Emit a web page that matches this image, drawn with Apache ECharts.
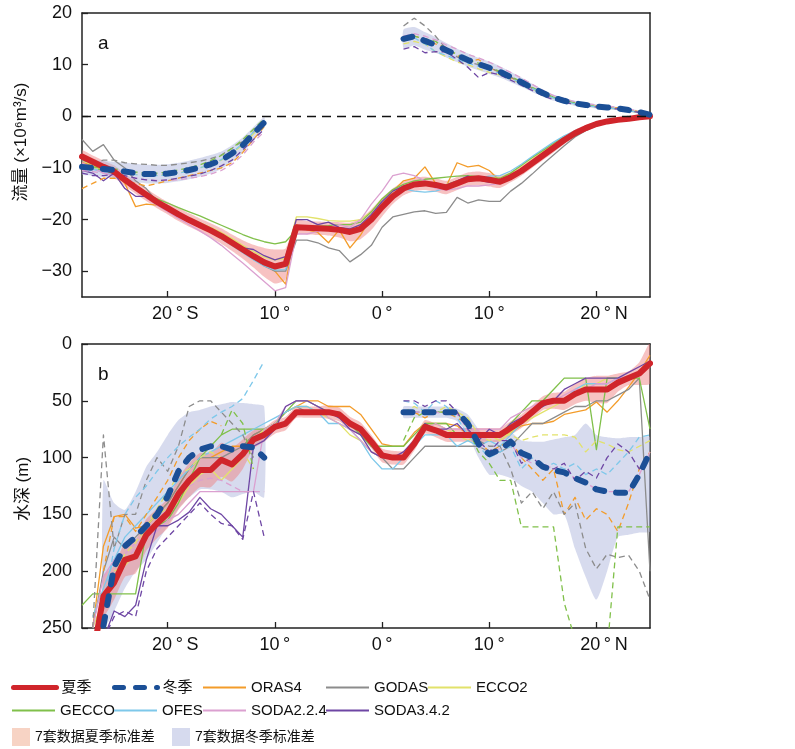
<!DOCTYPE html>
<html><head><meta charset="utf-8">
<script src="https://cdn.jsdelivr.net/npm/echarts@6/dist/echarts.min.js"></script>
<style>html,body{margin:0;padding:0;background:#fff}#c{width:795px;height:749px}</style>
</head><body><div id="c"></div>
<script>
// ---------- latitude grids ----------
const LAT = [-28,-27,-26,-25,-24,-23,-22,-21,-20,-19,-18,-17,-16,-15,-14,-13,-12,-11,-10,-9,-8,-7,-6,-5,-4,-3,-2,-1,0,1,2,3,4,5,6,7,8,9,10,11,12,13,14,15,16,17,18,19,20,21,22,23,24,25];
const LAT_S = [-28,-27,-26,-25,-24,-23,-22,-21,-20,-19,-18,-17,-16,-15,-14,-13,-12,-11];
const LAT_N = [2,3,4,5,6,7,8,9,10,11,12,13,14,15,16,17,18,19,20,21,22,23,24,25];

const X_TICKS = [-20,-10,0,10,20];
const X_TICK_LABELS = ['20\u2009°\u2009S','10\u2009°','0\u2009°','10\u2009°','20\u2009°\u2009N'];
const YA_TICKS = [-30,-20,-10,0,10,20];

const NAMES = ['ORAS4','GODAS','ECCO2','GECCO','OFES','SODA2.2.4','SODA3.4.2'];
const COLORS = ['#f39c2a','#8c8c8c','#e2e26a','#80c04a','#7ec8ea','#dba0d0','#6e46a4'];

// ---------- panel a : transport, summer (LAT) ----------
const A_SUM_MEAN = [-7.8,-8.8,-9.8,-10.7,-12.3,-13.8,-15.2,-16.6,-17.8,-19,-20.1,-21.1,-22.1,-23.2,-24.5,-25.8,-27.1,-28.3,-29.1,-28.6,-21.5,-21.6,-21.7,-21.8,-22,-22.4,-21.8,-20,-17.6,-15.5,-14,-13.2,-13,-13.3,-13.8,-13,-12.2,-12,-12.3,-12.7,-11.8,-10.6,-9.1,-7.6,-6.1,-4.6,-3.3,-2.3,-1.5,-1,-0.7,-0.5,-0.2,0];
const A_SUM_STD = [1.2,1.2,1.2,1.2,1.2,1.2,1.2,1.2,1.2,1.3,1.3,1.3,1.4,1.5,1.6,1.8,2.2,2.8,3.3,3,1.5,1.3,1.3,1.3,1.5,1.8,2,2,1.8,1.5,1.3,1.3,1.3,1.3,1.3,1.3,1.3,1.3,1.3,1.2,1,0.9,0.9,0.9,0.9,0.8,0.7,0.6,0.5,0.4,0.3,0.3,0.2,0.1];
const A_SUM_ORAS4 = [-9,-9.5,-10.5,-11,-13,-17.5,-17,-17.2,-17.8,-19,-20,-21,-22,-23,-24.5,-26,-27.5,-28.5,-30,-32.5,-21,-22,-22.5,-24.5,-22,-25.5,-23,-19.5,-17,-14.5,-12.5,-12,-9.8,-13,-13.5,-9,-9.8,-9.5,-10.5,-12.5,-12,-10.8,-9.3,-7.8,-6.5,-5,-3.6,-2.6,-1.8,-1.2,-0.8,-0.5,-0.2,0];
const A_SUM_GODAS = [-4.5,-6.8,-5.5,-8.5,-10,-12.5,-14,-16.5,-17.8,-19,-20,-21,-22,-23.2,-24.6,-26,-27.6,-29,-30,-30,-24,-24,-24.5,-25.5,-26,-28.2,-26.8,-25,-21.5,-19.5,-19,-18.5,-18.3,-18.8,-18.6,-15.7,-16.8,-16.2,-16.5,-16.5,-14.5,-13,-11.2,-9.3,-7.5,-5.7,-4,-2.8,-1.8,-1.2,-0.8,-0.5,-0.2,0];
const A_SUM_ECCO2 = [-8.5,-9.5,-10.5,-11,-12.5,-14,-15.3,-16.5,-17.6,-18.7,-19.7,-20.6,-21.5,-22.5,-23.7,-25,-26.2,-27.3,-27.8,-27.5,-19.5,-19.5,-19.8,-20.2,-20.3,-20.3,-20,-18.5,-16,-14.5,-13.8,-13.5,-13.3,-13.5,-13.2,-12.5,-12,-12,-12,-12,-11,-9.6,-8.1,-6.7,-5.3,-4,-3,-2.1,-1.4,-1,-0.7,-0.4,-0.2,0];
const A_SUM_GECCO = [-9.5,-10,-10.5,-11,-12.5,-13.8,-15,-16,-16.8,-17.7,-18.5,-19.3,-20.2,-21.1,-22,-22.9,-23.7,-24.3,-24.7,-24.3,-22,-21.5,-21.3,-21.2,-21,-21,-20.5,-18.5,-16,-14.2,-13.2,-12.5,-12.2,-12,-11.8,-11.6,-11.5,-11.7,-12,-12,-11,-9.5,-8,-6.6,-5.2,-3.9,-2.9,-2,-1.4,-1,-0.7,-0.4,-0.2,0];
const A_SUM_OFES = [-10,-10.3,-10.8,-11.3,-12.5,-14,-15.5,-16.8,-18,-19.2,-20.3,-21.4,-22.5,-23.7,-25,-26.4,-27.8,-29,-29.8,-29.7,-21.5,-21.3,-21.5,-21.5,-21.8,-22,-21.5,-19.5,-17,-15,-14,-14.5,-14.7,-14.5,-13.8,-13,-12.5,-12,-11.6,-11.5,-10.6,-9.3,-7.8,-6.4,-5,-3.8,-2.8,-2,-1.3,-0.9,-0.6,-0.4,-0.2,0];
const A_SUM_SODA224 = [-9,-10,-11,-11.5,-12.7,-14.3,-15.8,-17.2,-18.5,-19.8,-21,-22.2,-23.5,-25,-26.7,-28.4,-30.2,-32,-33.8,-33.2,-22.8,-22.8,-22.3,-21.5,-21,-21.5,-20,-17,-14.5,-11.5,-11,-11.5,-12.5,-14,-14.3,-14,-13.5,-13.5,-13.3,-13,-11.7,-10.3,-8.8,-7.3,-5.8,-4.4,-3.2,-2.2,-1.5,-1,-0.7,-0.4,-0.2,0];
const A_SUM_SODA342 = [-10.5,-11,-12.5,-11,-14,-15.5,-15.5,-16.5,-17.6,-18.8,-19.8,-20.8,-21.8,-23,-24.3,-25.5,-25.8,-27,-27.8,-27.2,-20,-20,-21,-20.5,-21.5,-21.8,-21,-19,-16.5,-14.5,-13.5,-13,-13.3,-13.5,-13.3,-12.5,-11.6,-12.3,-12.8,-12.5,-11.5,-10.3,-8.8,-7.3,-5.9,-4.5,-3.3,-2.3,-1.5,-1,-0.7,-0.4,-0.2,0];

// ---------- panel a : transport, winter south (LAT_S) ----------
const A_WIN_S_MEAN = [-9.8,-10,-10.2,-10.4,-10.7,-11,-11.2,-11.2,-11.1,-10.8,-10.4,-9.9,-9.3,-8.5,-7.2,-5.6,-3.4,-1.2];
const A_WIN_S_STD = [1.5,1.5,1.6,1.6,1.7,1.8,1.8,1.8,1.8,1.8,1.8,1.8,1.8,1.7,1.6,1.5,1.3,1];
const A_WIN_S_ORAS4 = [-14,-13,-12,-12,-12.5,-13,-13.5,-13,-12.5,-12,-11.5,-11,-10.5,-10,-9,-7,-4.5,-2];
const A_WIN_S_GODAS = [-8.5,-9,-8.5,-8.5,-9,-9.2,-9.3,-9.5,-9.5,-9.3,-9,-8.7,-8.2,-7.5,-6.2,-4.8,-3,-1];
const A_WIN_S_ECCO2 = [-10,-10,-10.3,-10.5,-10.8,-11.2,-11.4,-11.4,-11.3,-11,-10.5,-10,-9.3,-8.5,-7.2,-5.5,-3.4,-1.3];
const A_WIN_S_GECCO = [-9.5,-9.8,-10,-10.2,-10.5,-10.8,-11,-11,-10.8,-10.4,-10,-9.4,-8.6,-7.6,-6.2,-4.5,-2.5,-0.5];
const A_WIN_S_OFES = [-10,-10.2,-10.4,-10.6,-11,-11.3,-11.5,-11.5,-11.4,-11,-10.6,-10,-9.3,-8.4,-7,-5.3,-3.1,-0.8];
const A_WIN_S_SODA224 = [-10.5,-10.7,-11,-11.3,-11.7,-12,-12.3,-12.4,-12.4,-12.3,-12,-11.7,-11.2,-10.5,-9.3,-7.5,-5,-3];
const A_WIN_S_SODA342 = [-11,-11.5,-11.5,-11.2,-11.5,-12,-12.3,-12.5,-12.3,-12,-11.6,-11.2,-10.5,-9.6,-8.5,-6.5,-4.5,-2.5];

// ---------- panel a : transport, winter north (LAT_N) ----------
const A_WIN_N_MEAN = [15,15.5,14.6,13.8,12.8,11.8,10.9,10.1,9.4,8.6,7.6,6.6,5.5,4.5,3.6,3,2.5,2.2,1.9,1.7,1.5,1.2,0.8,0.3];
const A_WIN_N_STD = [1.8,1.8,1.7,1.5,1.4,1.3,1.3,1.2,1.2,1.1,1,0.9,0.8,0.7,0.6,0.5,0.5,0.4,0.4,0.4,0.3,0.3,0.3,0.2];
const A_WIN_N_ORAS4 = [14.5,15.5,15,14,13.3,11.8,10.5,11,9.5,8.4,7.5,6.5,5.5,4.5,3.6,3,2.5,2.2,2,1.8,1.6,1.3,0.9,0.3];
const A_WIN_N_GODAS = [17.5,19,17.5,15.5,13,11.5,10.5,10,9.4,8.6,7.6,6.6,5.4,4.4,3.6,3,2.5,2.2,1.9,1.7,1.5,1.2,0.8,0.3];
const A_WIN_N_ECCO2 = [14,14.5,14,12.5,11.5,10.5,10,9.2,8.5,8,7.2,6.3,5.3,4.3,3.5,2.9,2.4,2.1,1.8,1.6,1.4,1.1,0.7,0.3];
const A_WIN_N_GECCO = [15,15.5,15,14.5,13,12,11,10.3,9.5,8.7,7.7,6.7,5.6,4.6,3.7,3.1,2.6,2.2,1.9,1.7,1.5,1.2,0.8,0.3];
const A_WIN_N_OFES = [14.8,15.2,14,12.5,11.8,11,10.3,9.7,9,8.3,7.4,6.4,5.4,4.4,3.5,2.9,2.4,2.1,1.8,1.6,1.4,1.1,0.7,0.3];
const A_WIN_N_SODA224 = [15.5,16,15.5,14.8,13.8,13,12,11.3,10.5,9.5,8.5,7.4,6.2,5,4,3.4,2.8,2.5,2.2,2,1.7,1.4,1,0.4];
const A_WIN_N_SODA342 = [13,13.5,12.3,12.5,12.5,11,9.5,7.5,8.5,8,7,6,5,4,3.2,2.7,2.3,2,1.8,1.6,1.4,1.1,0.7,0.3];

// ---------- panel b : depth, summer (LAT) ----------
const B_SUM_MEAN = [null,275,222,210,190,187,168,158,149,132,120,111,111,102,106,97,84,80,73,70,60,60,60,60,62,70,75,86,98,100,100,88,73,76,80,80,80,80,80,80,74,68,60,52,50,50,44,40,40,40,34,30,26,17];
const B_SUM_STD = [null,null,18,15,15,15,14,13,13,14,15,15,15,15,15,13,8,6,6,6,5,5,5,6,6,6,6,6,6,6,6,6,6,6,6,6,6,6,6,6,6,6,6,6,7,8,9,10,12,12,8,6,10,18];
const B_SUM_ORAS4 = [null,250,178,152,150,162,160,150,140,125,110,100,100,95,90,90,80,75,70,60,55,50,50,55,55,55,62,75,88,90,90,78,70,70,70,72,80,80,80,80,78,72,70,70,68,62,60,58,51,60,50,38,25,10];
const B_SUM_GODAS = [null,250,200,170,180,170,160,150,140,125,110,100,100,100,95,90,80,75,70,60,55,60,60,60,65,70,80,90,100,110,110,100,90,90,90,90,90,90,95,95,90,80,70,70,65,60,55,55,50,50,45,40,30,200];
const B_SUM_ECCO2 = [null,250,225,200,195,185,160,150,145,140,125,115,110,120,110,100,85,75,70,60,55,55,60,65,70,80,85,95,100,100,100,85,75,70,75,80,85,80,80,85,78,70,65,60,55,50,45,35,35,30,30,28,25,20];
const B_SUM_GECCO = [230,220,220,220,220,220,165,160,155,140,120,100,90,80,75,75,75,75,70,60,50,50,55,60,60,70,80,90,90,90,90,80,70,70,70,80,80,80,80,80,70,60,50,50,40,30,30,30,93,30,30,30,30,75];
const B_SUM_OFES = [null,240,215,190,170,160,150,140,130,120,110,100,95,90,85,80,75,70,65,60,55,55,60,70,70,75,85,100,110,110,100,90,80,80,80,90,85,90,85,90,80,70,60,55,50,50,40,35,35,35,30,30,25,20];
const B_SUM_SODA224 = [null,250,205,190,185,175,170,165,155,150,140,130,130,130,130,130,130,75,70,55,50,50,55,65,70,75,85,95,100,100,95,85,75,70,75,75,75,75,75,75,65,60,55,50,50,45,40,40,35,35,30,28,25,20];
const B_SUM_SODA342 = [null,null,260,235,240,230,190,160,160,155,148,135,145,150,160,170,90,85,75,55,50,50,55,60,65,75,80,95,100,100,95,85,70,75,75,70,80,85,75,80,70,65,60,55,50,40,35,30,30,30,30,25,20,15];

// ---------- panel b : depth, winter south (LAT_S) ----------
const B_WIN_S_MEAN = [null,null,248,196,178,170,160,150,134,112,100,93,90,90,93,90,91,100];
const B_WIN_S_UPPER = [null,null,120,140,146,130,108,95,80,67,60,58,55,53,51,52,53,55];
const B_WIN_S_LOWER = [null,null,250,235,215,200,190,175,160,145,135,128,128,130,135,132,130,135];
const B_WIN_S_ORAS4 = [null,null,200,152,152,165,150,135,120,100,85,75,68,72,null,null,null,null];
const B_WIN_S_GODAS = [null,250,80,180,150,150,120,100,112,90,55,50,50,60,70,80,100,null];
const B_WIN_S_ECCO2 = [null,null,230,200,185,175,160,145,130,115,110,100,95,100,105,95,110,null];
const B_WIN_S_GECCO = [null,null,null,null,null,null,null,null,null,null,null,null,null,80,58,70,110,null];
const B_WIN_S_OFES = [null,260,230,180,150,135,125,112,100,90,82,75,66,60,55,48,32,15];
const B_WIN_S_SODA224 = [null,null,230,200,190,180,165,155,145,130,125,120,118,120,125,130,130,130];
const B_WIN_S_SODA342 = [null,null,260,240,235,240,200,180,170,160,150,140,150,158,160,172,130,170];

// ---------- panel b : depth, winter north (LAT_N) ----------
const B_WIN_N_MEAN = [60,60,60,60,60,60,70,88,97,93,86,96,100,108,111,113,118,122,128,130,131,131,115,95];
const B_WIN_N_UPPER = [55,55,55,55,55,57,62,75,85,83,78,85,86,86,84,82,80,70,80,82,83,82,82,82];
const B_WIN_N_LOWER = [65,65,65,65,65,68,80,100,115,115,118,125,130,140,150,150,180,205,225,200,170,168,166,165];
const B_WIN_N_ORAS4 = [60,60,65,60,60,65,70,85,95,90,85,100,110,120,110,150,135,155,145,150,165,140,110,95];
const B_WIN_N_GODAS = [60,60,60,60,60,60,70,85,90,90,110,140,130,145,130,150,140,180,198,185,188,186,200,225];
const B_WIN_N_ECCO2 = [60,55,60,60,55,60,65,80,85,80,80,85,82,80,80,80,82,95,85,88,93,95,90,85];
const B_WIN_N_GECCO = [85,65,60,60,60,60,75,95,105,120,120,161,161,161,161,228,260,290,290,270,161,161,161,161];
const B_WIN_N_OFES = [50,52,60,50,55,65,80,90,100,95,90,110,100,110,105,110,105,115,110,115,105,95,82,80];
const B_WIN_N_SODA224 = [60,60,60,60,62,62,75,90,95,92,88,100,105,105,110,112,118,122,128,130,130,130,115,95];
const B_WIN_N_SODA342 = [50,50,55,50,50,60,75,85,95,85,85,105,100,108,110,105,120,112,118,100,88,95,110,100];

const A_SUM = [A_SUM_ORAS4,A_SUM_GODAS,A_SUM_ECCO2,A_SUM_GECCO,A_SUM_OFES,A_SUM_SODA224,A_SUM_SODA342];
const A_WIN_S = [A_WIN_S_ORAS4,A_WIN_S_GODAS,A_WIN_S_ECCO2,A_WIN_S_GECCO,A_WIN_S_OFES,A_WIN_S_SODA224,A_WIN_S_SODA342];
const A_WIN_N = [A_WIN_N_ORAS4,A_WIN_N_GODAS,A_WIN_N_ECCO2,A_WIN_N_GECCO,A_WIN_N_OFES,A_WIN_N_SODA224,A_WIN_N_SODA342];
const B_SUM = [B_SUM_ORAS4,B_SUM_GODAS,B_SUM_ECCO2,B_SUM_GECCO,B_SUM_OFES,B_SUM_SODA224,B_SUM_SODA342];
const B_WIN_S = [B_WIN_S_ORAS4,B_WIN_S_GODAS,B_WIN_S_ECCO2,B_WIN_S_GECCO,B_WIN_S_OFES,B_WIN_S_SODA224,B_WIN_S_SODA342];
const B_WIN_N = [B_WIN_N_ORAS4,B_WIN_N_GODAS,B_WIN_N_ECCO2,B_WIN_N_GECCO,B_WIN_N_OFES,B_WIN_N_SODA224,B_WIN_N_SODA342];

// ---------- helpers ----------
const RED = '#d0252b', BLUE = '#1b4f96';
const SUM_BAND = 'rgba(238,128,128,0.48)', WIN_BAND = 'rgba(176,184,222,0.5)';
const FONT = "'Liberation Sans', Arial, 'Noto Sans CJK SC', sans-serif";
const LFONT = "'Liberation Sans Narrow', 'Liberation Sans', 'Noto Sans CJK SC', sans-serif";

function pairs(xs, ys) {
  const out = [];
  xs.forEach((x, i) => { if (ys[i] !== null && ys[i] !== undefined) out.push([x, ys[i]]); });
  return out;
}
function mkLine(name, xs, ys, panel, color, width, type, z, extra) {
  return Object.assign({
    type: 'line', name, xAxisIndex: panel * 2, yAxisIndex: panel * 2,
    data: pairs(xs, ys), symbol: 'none', showSymbol: false, silent: true, animation: false, z,
    lineStyle: { color, width, type, cap: width > 3 ? 'round' : 'butt', join: 'round' },
    itemStyle: { color }, emphasis: { disabled: true }
  }, extra || {});
}
function mkBand(name, xs, lo, hi, color, panel) {
  const pts = [];
  xs.forEach((x, i) => { if (lo[i] != null && hi[i] != null) pts.push([x, lo[i], hi[i]]); });
  return {
    type: 'custom', name, xAxisIndex: panel * 2, yAxisIndex: panel * 2, coordinateSystem: 'cartesian2d',
    clip: true, silent: true, animation: false, z: 1, itemStyle: { color },
    data: [[pts[0][0], pts[0][1]]],
    renderItem: function (params, api) {
      const poly = [];
      for (let i = 0; i < pts.length; i++) poly.push(api.coord([pts[i][0], pts[i][2]]));
      for (let i = pts.length - 1; i >= 0; i--) poly.push(api.coord([pts[i][0], pts[i][1]]));
      return { type: 'polygon', shape: { points: poly, smooth: 0.2 }, style: { fill: color } };
    }
  };
}
const minus = (m, s) => m.map((v, i) => (v == null || s[i] == null) ? null : v - s[i]);
const plus = (m, s) => m.map((v, i) => (v == null || s[i] == null) ? null : v + s[i]);

// ---------- series ----------
const series = [];
series.push(mkBand('7套数据夏季标准差', LAT, minus(A_SUM_MEAN, A_SUM_STD), plus(A_SUM_MEAN, A_SUM_STD), SUM_BAND, 0));
series.push(mkBand('7套数据冬季标准差', LAT_S, minus(A_WIN_S_MEAN, A_WIN_S_STD), plus(A_WIN_S_MEAN, A_WIN_S_STD), WIN_BAND, 0));
series.push(mkBand('7套数据冬季标准差', LAT_N, minus(A_WIN_N_MEAN, A_WIN_N_STD), plus(A_WIN_N_MEAN, A_WIN_N_STD), WIN_BAND, 0));
series.push(mkBand('7套数据冬季标准差', LAT_S, B_WIN_S_UPPER, B_WIN_S_LOWER, WIN_BAND, 1));
series.push(mkBand('7套数据冬季标准差', LAT_N, B_WIN_N_UPPER, B_WIN_N_LOWER, WIN_BAND, 1));
series.push(mkBand('7套数据夏季标准差', LAT, minus(B_SUM_MEAN, B_SUM_STD), plus(B_SUM_MEAN, B_SUM_STD), SUM_BAND, 1));

NAMES.forEach((n, k) => {
  series.push(mkLine(n, LAT, A_SUM[k], 0, COLORS[k], 1.3, 'solid', 2));
  series.push(mkLine(n, LAT, B_SUM[k], 1, COLORS[k], 1.3, 'solid', 2));
});
NAMES.forEach((n, k) => {
  series.push(mkLine(n, LAT_S, A_WIN_S[k], 0, COLORS[k], 1.3, [6, 4], 2));
  series.push(mkLine(n, LAT_N, A_WIN_N[k], 0, COLORS[k], 1.3, [6, 4], 2));
  series.push(mkLine(n, LAT_S, B_WIN_S[k], 1, COLORS[k], 1.3, [6, 4], 2));
  series.push(mkLine(n, LAT_N, B_WIN_N[k], 1, COLORS[k], 1.3, [6, 4], 2));
});
series[6].markLine = {
  silent: true, symbol: ['none', 'none'], label: { show: false }, animation: false,
  lineStyle: { color: '#111', type: [9, 6], width: 1.3 }, data: [{ yAxis: 0 }]
};
series.push(mkLine('夏季', LAT, A_SUM_MEAN, 0, RED, 6, 'solid', 3));
series.push(mkLine('夏季', LAT, B_SUM_MEAN, 1, RED, 6, 'solid', 3));
series.push(mkLine('冬季', LAT_S, A_WIN_S_MEAN, 0, BLUE, 6, [9, 12], 4));
series.push(mkLine('冬季', LAT_N, A_WIN_N_MEAN, 0, BLUE, 6, [9, 12], 4));
series.push(mkLine('冬季', LAT_S, B_WIN_S_MEAN, 1, BLUE, 6, [9, 12], 4));
series.push(mkLine('冬季', LAT_N, B_WIN_N_MEAN, 1, BLUE, 6, [9, 12], 4));

// ---------- axes ----------
const AX_LINE = { show: true, onZero: false, lineStyle: { color: '#222', width: 1.5 } };
function xAxisMain(grid) {
  return {
    type: 'value', gridIndex: grid, min: -28, max: 25, position: 'bottom',
    axisLine: AX_LINE, splitLine: { show: false },
    axisTick: { show: true, inside: true, length: 6, customValues: X_TICKS, lineStyle: { color: '#222', width: 1.3 } },
    axisLabel: {
      show: true, customValues: X_TICKS, margin: 8, color: '#111', fontSize: 18, fontFamily: FONT,
      formatter: v => { const i = X_TICKS.indexOf(v); const t = X_TICK_LABELS[i]; return (v === -20 || v === 20) ? '{p| }' + t : t; },
      rich: { p: { width: 15 } }
    }
  };
}
function xAxisTop(grid) {
  return { type: 'value', gridIndex: grid, min: -28, max: 25, position: 'top', axisLine: AX_LINE,
    axisTick: { show: false }, axisLabel: { show: false }, splitLine: { show: false } };
}
function yAxisRight(grid, min, max, inverse) {
  return { type: 'value', gridIndex: grid, min, max, inverse, position: 'right', axisLine: AX_LINE,
    axisTick: { show: false }, axisLabel: { show: false }, splitLine: { show: false } };
}

const option = {
  animation: false,
  backgroundColor: '#fff',
  grid: [
    { left: 82, top: 13, width: 568, height: 284 },
    { left: 82, top: 344, width: 568, height: 284 }
  ],
  xAxis: [xAxisMain(0), xAxisTop(0), xAxisMain(1), xAxisTop(1)],
  yAxis: [
    { type: 'value', gridIndex: 0, min: -35, max: 20, position: 'left', axisLine: AX_LINE, splitLine: { show: false },
      axisTick: { show: true, inside: true, length: 6, customValues: YA_TICKS, lineStyle: { color: '#222', width: 1.3 } },
      axisLabel: { customValues: YA_TICKS, margin: 10, color: '#111', fontSize: 18, fontFamily: FONT,
        formatter: v => v < 0 ? '\u2212' + (-v) : String(v) } },
    yAxisRight(0, -35, 20, false),
    { type: 'value', gridIndex: 1, min: 0, max: 250, interval: 50, inverse: true, position: 'left', axisLine: AX_LINE, splitLine: { show: false },
      axisTick: { show: true, inside: true, length: 6, lineStyle: { color: '#222', width: 1.3 } },
      axisLabel: { margin: 10, color: '#111', fontSize: 18, fontFamily: FONT } },
    yAxisRight(1, 0, 250, true)
  ],
  legend: [],
  graphic: [
    { type: 'text', x: 98, y: 34, style: { text: 'a', fontSize: 19, fontFamily: FONT, fill: '#111' } },
    { type: 'text', x: 98, y: 365, style: { text: 'b', fontSize: 19, fontFamily: FONT, fill: '#111' } },
    { type: 'text', x: 21, y: 142, rotation: Math.PI / 2,
      style: { text: '流量 (×10⁶m³/s)', fontSize: 17, fontFamily: FONT, fill: '#111', align: 'center', verticalAlign: 'middle' } },
    { type: 'text', x: 23, y: 489, rotation: Math.PI / 2,
      style: { text: '水深 (m)', fontSize: 17, fontFamily: FONT, fill: '#111', align: 'center', verticalAlign: 'middle' } }
  ],
  series
};

// ---------- legend (one component per entry, placed like the reference) ----------
function lg(name, left, cy, lw, opts) {
  return Object.assign({
    data: [name], left, top: cy - 8, padding: 0, itemWidth: 43, itemHeight: 14, itemGap: 0,
    selectedMode: false, itemStyle: { opacity: 0 },
    lineStyle: { width: lw },
    textStyle: { fontFamily: LFONT, fontSize: 15, color: '#111' }
  }, opts || {});
}
option.legend = [
  lg('夏季', 11, 688, 5), lg('冬季', 112, 688, 5), lg('ORAS4', 202, 688, 2), lg('GODAS', 325, 688, 2), lg('ECCO2', 427, 688, 2),
  lg('GECCO', 11, 711, 2), lg('OFES', 113, 711, 2), lg('SODA2.2.4', 202, 711, 2), lg('SODA3.4.2', 325, 711, 2),
  lg('7套数据夏季标准差', 12, 737, 0, { itemWidth: 18, itemHeight: 18, top: 728, itemStyle: {}, lineStyle: {},
    textStyle: { fontFamily: LFONT, fontSize: 14, color: '#111' },
    data: [{ name: '7套数据夏季标准差', icon: 'rect', itemStyle: { color: '#f7d3c4', opacity: 1 } }] }),
  lg('7套数据冬季标准差', 172, 737, 0, { itemWidth: 18, itemHeight: 18, top: 728, itemStyle: {}, lineStyle: {},
    textStyle: { fontFamily: LFONT, fontSize: 14, color: '#111' },
    data: [{ name: '7套数据冬季标准差', icon: 'rect', itemStyle: { color: '#d6daee', opacity: 1 } }] })
];

const chart = echarts.init(document.getElementById('c'));
chart.setOption(option);
</script>
</body></html>
